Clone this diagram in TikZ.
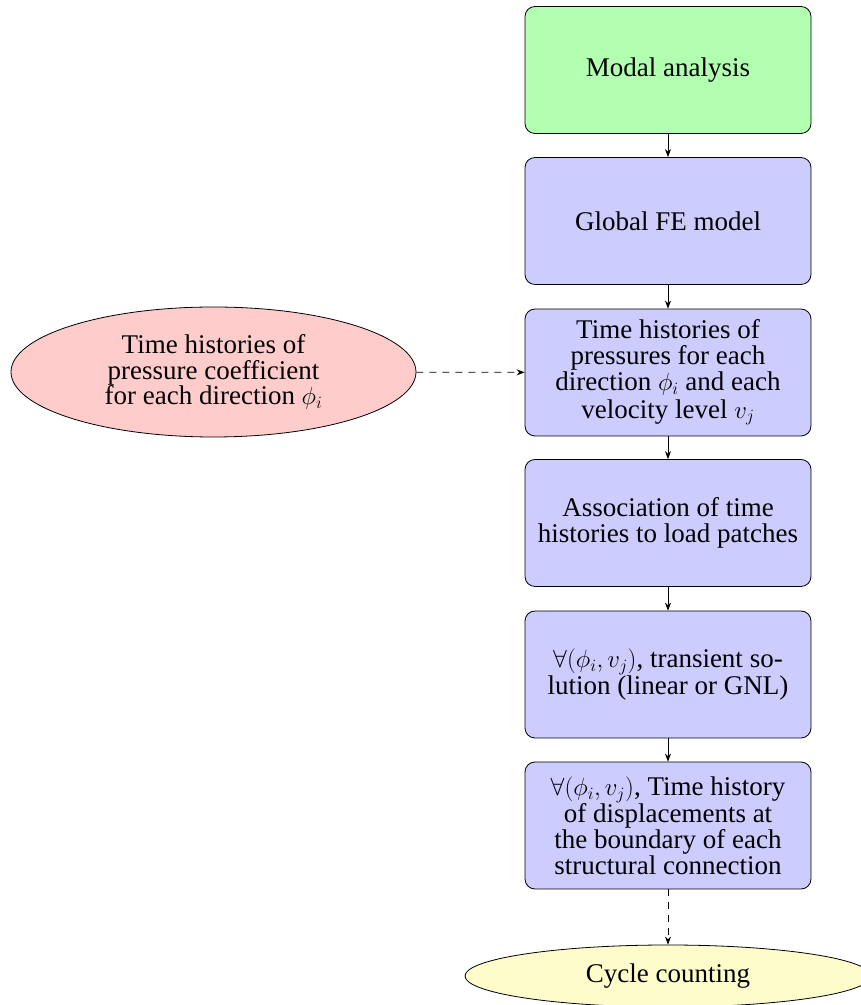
\documentclass[tikz,border=0pt]{standalone}
\usepackage{fontspec}
\setmainfont{Liberation Serif}
\usetikzlibrary{shapes.geometric,arrows.meta}

\tikzset{
  textfont/.style={font=\fontsize{27}{25.8}\selectfont},
  stepbox/.style={draw, line width=0.8pt, rounded corners=10pt, fill=blue!20,
    minimum width=286pt, minimum height=127pt, inner sep=0pt,
    align=center, textfont},
  cloudnode/.style={draw, ellipse, line width=0.8pt, inner sep=0pt,
    align=center, textfont},
  flow/.style={draw, line width=0.8pt, -{Stealth[length=8pt,width=6pt]}},
  flowdash/.style={flow, dash pattern=on 7pt off 6pt}
}

\begin{document}
\begin{tikzpicture}[x=1pt,y=1pt]
  \useasboundingbox (0,0) rectangle (861,1005);

  % main chain of steps
  \node[stepbox, fill=green!30] (modal) at (668,935) {Modal analysis};
  \node[stepbox] (fe)     at (668,784)   {Global FE model};
  \node[stepbox] (press)  at (668,632.5) {Time histories of\\pressures for each\\direction $\phi_i$ and each\\[2pt]velocity level $v_j$};
  \node[stepbox] (assoc)  at (668,482)   {Association of time\\histories to load patches};
  \node[stepbox] (trans)  at (668,330.5) {$\forall(\phi_i, v_j)$, transient so-\\lution (linear or GNL)};
  \node[stepbox] (disp)   at (668,179.5) {$\forall(\phi_i, v_j)$, Time history\\of displacements at\\the boundary of each\\structural connection};

  % external input and final output
  \node[cloudnode, fill=red!20, minimum width=405pt, minimum height=130pt] (cp) at (213.5,633)
    {Time histories of\\pressure coefficient\\for each direction $\phi_i$};
  \node[cloudnode, fill=yellow!20, minimum width=406pt, minimum height=62pt] (cycle) at (668,29)
    {Cycle counting};

  % connectors
  \draw[flow] (modal) -- (fe);
  \draw[flow] (fe) -- (press);
  \draw[flow] (press) -- (assoc);
  \draw[flow] (assoc) -- (trans);
  \draw[flow] (trans) -- (disp);
  \draw[flowdash] (disp) -- (cycle);
  \draw[flowdash] (cp) -- (press);
\end{tikzpicture}
\end{document}
